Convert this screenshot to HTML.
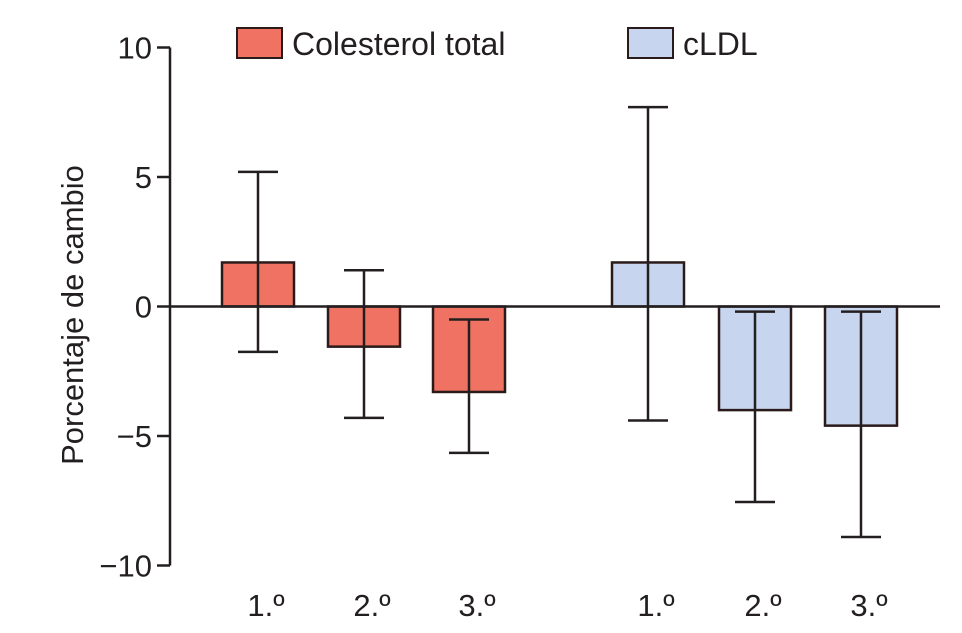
<!DOCTYPE html>
<html><head><meta charset="utf-8"><style>
html,body{margin:0;padding:0;background:#fff;}
svg{display:block;font-family:"Liberation Sans",Arial,sans-serif;}
</style></head><body>
<svg id="chart" width="962" height="633" viewBox="0 0 962 633">
<g id="bars"></g>
<g id="axes"></g>
<g>
<rect x="237" y="28" width="45" height="30" fill="#f07262" stroke="#2a1a1a" stroke-width="2"/>
<text x="292" y="55" font-size="32" fill="#231f20">Colesterol total</text>
<rect x="628" y="28" width="45" height="30" fill="#c8d5ee" stroke="#2a1a1a" stroke-width="2"/>
<text x="683" y="55" font-size="32" fill="#231f20">cLDL</text>
</g>
<text transform="translate(83,315) rotate(-90)" text-anchor="middle" font-size="31" fill="#231f20">Porcentaje de cambio</text>
</svg>
<script>
const categories = ["1.º","2.º","3.º","1.º","2.º","3.º"];
const series = ["Colesterol total","Colesterol total","Colesterol total","cLDL","cLDL","cLDL"];
const values = [1.7, -1.55, -3.3, 1.7, -4.0, -4.6];
const errHigh = [5.2, 1.4, -0.5, 7.7, -0.2, -0.2];
const errLow = [-1.75, -4.3, -5.65, -4.4, -7.55, -8.9];
const yTicks = [10, 5, 0, -5, -10];
const yTickLabels = ["10","5","0","\u22125","\u221210"];

const NS = "http://www.w3.org/2000/svg";
const y0 = 306.5, pxPerUnit = 25.9;
function y(v){ return y0 - v*pxPerUnit; }
const barCenters = [258, 364, 469, 648, 755, 861];
function x(i){ return barCenters[i]; }
const barW = 72, capW = 40;
function mk(tag, attrs, parent){ const e=document.createElementNS(NS,tag); for(const k in attrs) e.setAttribute(k,attrs[k]); parent.appendChild(e); return e; }
const bars = document.getElementById('bars');
const axes = document.getElementById('axes');
const colors = {"Colesterol total":"#f07262","cLDL":"#c8d5ee"};
values.forEach((v,i)=>{
  const top = Math.min(y(v), y(0)), h = Math.abs(y(v)-y(0));
  const r = mk('rect',{x:x(i)-barW/2,y:top,width:barW,height:h,fill:colors[series[i]],stroke:"#2a1a1a","stroke-width":2.5},bars);
  
  
  const g = mk('g',{stroke:"#231f20","stroke-width":2.5},bars);
  
  
  mk('line',{x1:x(i),x2:x(i),y1:y(errHigh[i]),y2:y(errHigh[i]===errHigh[i]?errLow[i]:0)},g);
  mk('line',{x1:x(i)-capW/2,x2:x(i)+capW/2,y1:y(errHigh[i]),y2:y(errHigh[i])},g);
  mk('line',{x1:x(i)-capW/2,x2:x(i)+capW/2,y1:y(errLow[i]),y2:y(errLow[i])},g);
  const t = mk('text',{x:x(i)+8,y:616,"text-anchor":"middle","font-size":31,fill:"#231f20"},axes);
  t.textContent = categories[i];
  
  
});
const ax = mk('line',{x1:170,x2:170,y1:y(10),y2:y(-10),stroke:"#231f20","stroke-width":2.5},axes);


const zl = mk('line',{x1:170,x2:940,y1:y(0),y2:y(0),stroke:"#231f20","stroke-width":2.5},axes);


yTicks.forEach((v,i)=>{
  const tk = mk('line',{x1:157,x2:170,y1:y(v),y2:y(v),stroke:"#231f20","stroke-width":2.5},axes);
  
  
  const t = mk('text',{x:152,y:y(v)+11,"text-anchor":"end","font-size":31,fill:"#231f20"},axes);
  t.textContent = yTickLabels[i];
  
  
});
</script>
</body></html>
